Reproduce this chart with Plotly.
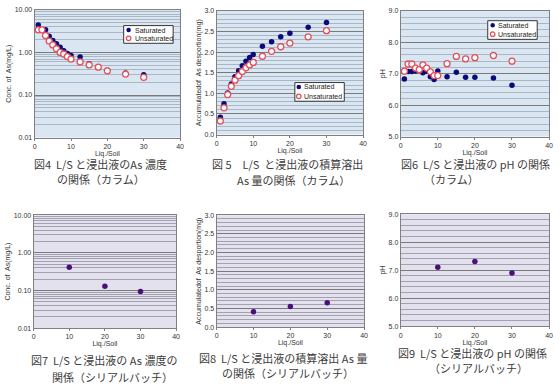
import plotly.graph_objects as go

# ---------------- data ----------------
ls_col = [1, 2, 3, 4, 5, 6, 7, 8, 9, 10, 12.5, 15, 17.5, 20, 25, 30]

conc_sat = [4.4, 3.4, 3.4, 2.4, 1.9, 1.6, 1.33, 1.1, 0.95, 0.85, 0.78, 0.54, 0.46, 0.38, 0.33, 0.30]
conc_unsat = [3.4, 3.4, 2.5, 1.85, 1.5, 1.22, 1.0, 0.92, 0.8, 0.70, 0.60, 0.51, 0.45, 0.37, 0.31, 0.26]

acc_sat = [0.42, 0.75, 1.01, 1.23, 1.40, 1.55, 1.67, 1.78, 1.87, 1.94, 2.14, 2.25, 2.37, 2.46, 2.60, 2.72]
acc_unsat = [0.33, 0.65, 0.97, 1.17, 1.32, 1.43, 1.53, 1.62, 1.69, 1.75, 1.90, 2.02, 2.13, 2.22, 2.37, 2.52]

ph_sat = [6.83, 7.07, 7.07, 7.09, 7.13, 7.03, 7.08, 6.90, 6.82, 7.09, 6.90, 7.05, 6.89, 6.89, 6.86, 6.63]
ph_unsat = [7.08, 7.31, 7.31, 7.18, 7.13, 7.28, 7.18, 7.06, 6.94, 6.94, 7.32, 7.55, 7.47, 7.51, 7.58, 7.40]

ls_batch = [10, 20, 30]
conc_batch = [0.41, 0.13, 0.094]
acc_batch = [0.41, 0.55, 0.65]
ph_batch = [7.10, 7.31, 6.90]

series_names = ["Saturated", "Unsaturated"]
x_ticks = [0, 10, 20, 30, 40]
log_ticks = [0.01, 0.1, 1, 10]
log_ticktext = ["0.01", "0.10", "1.00", "10.00"]
acc_ticks = [0.0, 0.5, 1.0, 1.5, 2.0, 2.5, 3.0]
ph_ticks = [5.0, 6.0, 7.0, 8.0, 9.0]

captions = [
    ("図4  L/S と浸出液のAs 濃度", "の関係（カラム）"),
    ("図 5　L/S  と浸出液の積算溶出", "As 量の関係（カラム）"),
    ("図6  L/S と浸出液の pH の関係", "（カラム）"),
    ("図7  L/S と浸出液の As 濃度の", "関係（シリアルバッチ）"),
    ("図8  L/S と浸出液の積算溶出 As 量", "の関係（シリアルバッチ）"),
    ("図9  L/S と浸出液の pH の関係", "（シリアルバッチ）"),
]
ytitles = ["Conc. of  As(mg/L)", "Accumulatedof  As desportion(mg)", "pH",
           "Conc. of  As(mg/L)", "Accumulatedof  As desportion(mg)", "pH"]

# ---------------- layout geometry ----------------
W, H = 560, 390
def px_x(a, b):
    return [a / W, b / W]
def px_y(top, bot):
    return [1 - bot / H, 1 - top / H]
def fx(v):
    return v / W
def fy(v):
    return 1 - v / H

panels = [
    dict(x=px_x(33, 180), y=px_y(6, 136)),
    dict(x=px_x(217, 365), y=px_y(7, 133)),
    dict(x=px_x(403, 553), y=px_y(7, 135)),
    dict(x=px_x(32, 176), y=px_y(215, 330)),
    dict(x=px_x(217, 366), y=px_y(215, 329)),
    dict(x=px_x(403, 553), y=px_y(214, 328)),
]

FONT = "Liberation Sans, Arial, sans-serif"
SAT_COLOR = "#0a0a78"
UNSAT_COLOR = "#e2505c"
BATCH_COLOR = "#4a1078"

fig = go.Figure()

def add_pair(i, ys, yu):
    xa = "x" if i == 1 else f"x{i}"
    ya = "y" if i == 1 else f"y{i}"
    fig.add_trace(go.Scatter(x=ls_col, y=ys, mode="markers", name=series_names[0],
                             xaxis=xa, yaxis=ya, showlegend=False,
                             marker=dict(color=SAT_COLOR, size=5.5, line=dict(width=0))))
    fig.add_trace(go.Scatter(x=ls_col, y=yu, mode="markers", name=series_names[1],
                             xaxis=xa, yaxis=ya, showlegend=False,
                             marker=dict(color="white", size=6, symbol="circle",
                                         line=dict(color=UNSAT_COLOR, width=1.3))))

def add_batch(i, y):
    xa = f"x{i}"
    ya = f"y{i}"
    fig.add_trace(go.Scatter(x=ls_batch, y=y, mode="markers", showlegend=False,
                             xaxis=xa, yaxis=ya,
                             marker=dict(color=BATCH_COLOR, size=5.5)))

add_pair(1, conc_sat, conc_unsat)
add_pair(2, acc_sat, acc_unsat)
add_pair(3, ph_sat, ph_unsat)
add_batch(4, conc_batch)
add_batch(5, acc_batch)
add_batch(6, ph_batch)

tickfont = dict(family=FONT, size=7, color="#333333")
titlefont = dict(family=FONT, size=7, color="#333333")

log_minor = [m * 10 ** e for e in (-2, -1, 0) for m in range(2, 10)]

layout = dict(width=W, height=H, margin=dict(l=0, r=0, t=0, b=0),
              paper_bgcolor="white", plot_bgcolor="rgba(0,0,0,0)",
              font=dict(family=FONT, size=7, color="#333333"),
              showlegend=False)

shapes = []
for i, p in enumerate(panels, start=1):
    sfx = "" if i == 1 else str(i)
    top = i <= 3
    bg = "#dae6f2" if top else "#e3e1ee"
    major_c = "#7a7a7a"
    minor_c = "#a9b6c4" if top else "#a3a1b0"
    layout["xaxis" + sfx] = dict(domain=p["x"], anchor="y" + sfx, range=[0, 40],
                                 tickvals=x_ticks, showgrid=False, zeroline=False,
                                 showline=True, linecolor="#808080", linewidth=1, mirror=True,
                                 ticks="outside", ticklen=2, tickcolor="#808080",
                                 tickfont=tickfont,
                                 title=dict(text="Liq./Soil", font=titlefont, standoff=1))
    ya = dict(domain=p["y"], anchor="x" + sfx, showgrid=True, gridcolor=major_c, gridwidth=1.3,
              zeroline=False, showline=True, linecolor="#808080", linewidth=1, mirror=True,
              ticks="", tickfont=tickfont,
              title=dict(text=ytitles[i - 1], font=titlefont, standoff=2))
    if i in (1, 4):
        ya.update(type="log", range=[-2, 1], tickvals=log_ticks, ticktext=log_ticktext,
                  minor=dict(tickvals=log_minor, showgrid=True, gridcolor=minor_c, gridwidth=0.8, ticks=""))
    elif i in (2, 5):
        ya.update(range=[0, 3], tickvals=acc_ticks, tickformat=".1f",
                  minor=dict(dtick=0.1, showgrid=True, gridcolor=minor_c, gridwidth=0.8, ticks=""))
    else:
        ya.update(range=[5, 9], tickvals=ph_ticks, tickformat=".1f",
                  minor=dict(dtick=0.2, showgrid=True, gridcolor=minor_c, gridwidth=0.8, ticks=""))
    layout["yaxis" + sfx] = ya
    shapes.append(dict(type="rect", xref=f"x{sfx} domain", yref=f"y{sfx} domain",
                       x0=0, x1=1, y0=0, y1=1, fillcolor=bg, line=dict(width=0), layer="below"))

annotations = []

# ---------------- compact legends (box + symbols + labels) ----------------
legend_boxes = [  # left, top, right, bottom, marker x, text x, row1 y, row2 y  (pixels)
    (123, 22, 173, 40, 128, 132, 26.5, 35),
    (296, 80, 346, 99, 300, 303, 84.5, 94),
    (491, 17, 541, 36, 496, 499.5, 21.7, 30.7),
]
for (l, t, r, b, mx, tx, r1, r2) in legend_boxes:
    shapes.append(dict(type="rect", xref="paper", yref="paper", x0=fx(l), x1=fx(r),
                       y0=fy(b), y1=fy(t), fillcolor="white",
                       line=dict(color="#333333", width=1), layer="above"))
    rad = 2.3
    shapes.append(dict(type="circle", xref="paper", yref="paper",
                       x0=fx(mx - rad), x1=fx(mx + rad), y0=fy(r1 + rad), y1=fy(r1 - rad),
                       fillcolor=SAT_COLOR, line=dict(width=0), layer="above"))
    shapes.append(dict(type="circle", xref="paper", yref="paper",
                       x0=fx(mx - rad), x1=fx(mx + rad), y0=fy(r2 + rad), y1=fy(r2 - rad),
                       fillcolor="white", line=dict(color=UNSAT_COLOR, width=1.2), layer="above"))
    for name, ry in zip(series_names, (r1, r2)):
        annotations.append(dict(text=name, x=fx(tx), y=fy(ry), xref="paper", yref="paper",
                                xanchor="left", yanchor="middle", showarrow=False,
                                font=dict(family=FONT, size=7, color="#222222")))

layout["shapes"] = shapes

cap_pos = [
    ((100, 163, "center"), (100, 178, "center")),
    ((289, 163, "center"), (295, 179, "center")),
    ((479, 163, "center"), (425, 178, "left")),
    ((103, 363, "center"), (112, 380, "center")),
    ((284, 360, "center"), (289, 376, "center")),
    ((476, 355, "center"), (482, 371, "center")),
]
for (l1, l2), (p1, p2) in zip(captions, cap_pos):
    for txt, (cx, cy, anc) in ((l1, p1), (l2, p2)):
        annotations.append(dict(text=txt, x=cx / W, y=1 - cy / H, xref="paper", yref="paper",
                                xanchor=anc, yanchor="middle", showarrow=False,
                                font=dict(family="Noto Sans CJK JP", size=11, color="#3c3c3c")))
layout["annotations"] = annotations

fig.update_layout(**layout)
fig.write_html("out.html", config={"displayModeBar": False},
               post_script="document.body.style.margin='0';document.body.style.overflow='hidden';")
